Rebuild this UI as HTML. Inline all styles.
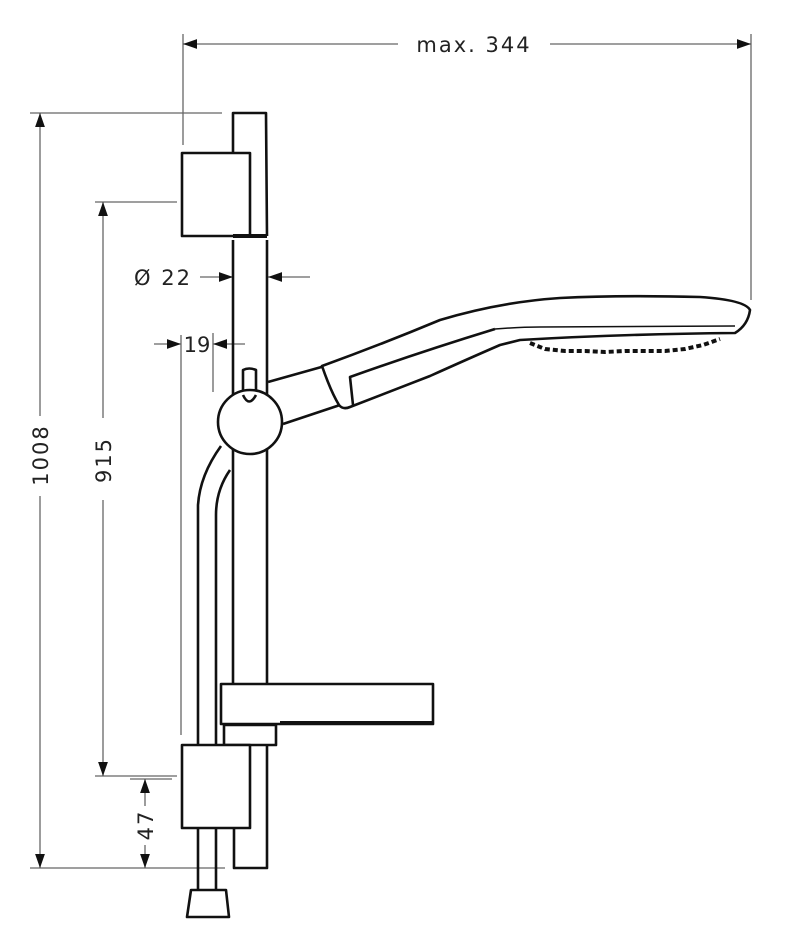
<!DOCTYPE html>
<html><head><style>body{margin:0;background:#fff}svg{display:block}</style></head><body>
<svg width="786" height="950" viewBox="0 0 786 950" xmlns="http://www.w3.org/2000/svg" font-family="'DejaVu Sans','Liberation Sans',sans-serif">
<defs>
<marker id="a" viewBox="0 0 10 10" refX="10" refY="5" markerWidth="14" markerHeight="14" markerUnits="userSpaceOnUse" orient="auto-start-reverse"><path d="M0,1.5 L10,5 L0,8.5Z" fill="#111"/></marker>
</defs>
<g stroke="#666" stroke-width="1.3" fill="none">
<line x1="183" y1="34" x2="183" y2="145"/>
<line x1="751" y1="34" x2="751" y2="300"/>
<line x1="183" y1="44" x2="398" y2="44" marker-start="url(#a)"/>
<line x1="550" y1="44" x2="751" y2="44" marker-end="url(#a)"/>
<line x1="30" y1="113" x2="222" y2="113"/>
<line x1="30" y1="868" x2="225" y2="868"/>
<line x1="40" y1="113" x2="40" y2="416" marker-start="url(#a)"/>
<line x1="40" y1="496" x2="40" y2="868" marker-end="url(#a)"/>
<line x1="95" y1="202" x2="177" y2="202"/>
<line x1="95" y1="776" x2="177" y2="776"/>
<line x1="103" y1="202" x2="103" y2="418" marker-start="url(#a)"/>
<line x1="103" y1="500" x2="103" y2="776" marker-end="url(#a)"/>
<line x1="130" y1="779" x2="172" y2="779"/>
<line x1="145" y1="779" x2="145" y2="806" marker-start="url(#a)"/>
<line x1="145" y1="845" x2="145" y2="868" marker-end="url(#a)"/>
<line x1="200" y1="277" x2="233" y2="277" marker-end="url(#a)"/>
<line x1="310" y1="277" x2="268" y2="277" marker-end="url(#a)"/>
<line x1="154" y1="344" x2="181" y2="344" marker-end="url(#a)"/>
<line x1="245" y1="344" x2="213" y2="344" marker-end="url(#a)"/>
<line x1="181" y1="335" x2="181" y2="735"/>
<line x1="213" y1="333" x2="213" y2="392"/>
</g>
<g fill="#222" font-size="21" letter-spacing="2">
<text x="474" y="52" text-anchor="middle">max. 344</text>
<text x="163" y="285" text-anchor="middle">Ø 22</text>
<text x="197" y="352" text-anchor="middle" letter-spacing="0">19</text>
<text transform="translate(48,455) rotate(-90)" text-anchor="middle">1008</text>
<text transform="translate(111,460) rotate(-90)" text-anchor="middle">915</text>
<text transform="translate(153,825) rotate(-90)" text-anchor="middle">47</text>
</g>
<g stroke="#111" stroke-width="2.6" fill="#fff" stroke-linejoin="round">
<path d="M233,236 L233,113 L266,113 L267,236"/>
<rect x="182" y="153" width="68" height="83"/>
<line x1="233" y1="236" x2="267" y2="236" stroke-width="4"/>
<line x1="233" y1="240" x2="233" y2="684"/>
<line x1="267" y1="240" x2="267" y2="684"/>
<path d="M268,382 L325,366 L340,405 L283,424" />
<path d="M322,366 Q331,392 339,405 Q343,410 350,407 L430,376 Q470,358 500,345 L520,340 Q620,334 735,333 Q748,325 750,310 Q745,300 700,297 Q620,295 560,298 Q500,302 440,320 Q380,345 322,366Z"/>
<path d="M353,405 L350,377 Q420,352 495,329" fill="none"/>
<path d="M495,329 Q520,327 540,327 L735,326" fill="none" stroke-width="1.5"/>
<path d="M530,343 L545,349 L565,351 L585,351 L605,352 L625,351 L645,351 L665,351 L685,349 L703,345 L720,339" fill="none" stroke-width="4" stroke-dasharray="5 3"/>
<path d="M221,446 Q200,475 198,505 L198,745" fill="none"/>
<path d="M230,470 Q216,490 216,515 L216,745" fill="none"/>
<line x1="198" y1="828" x2="198" y2="890"/>
<line x1="216" y1="828" x2="216" y2="890"/>
<path d="M191,890 L226,890 L229,917 L187,917Z"/>
<path d="M243,400 L243,370 Q249,367 256,370 L256,400Z"/>
<circle cx="250" cy="422" r="32"/>
<path d="M243,395 Q249,408 256,395" fill="none"/>
<rect x="221" y="684" width="212" height="40"/>
<line x1="280" y1="723" x2="433" y2="723" stroke-width="4"/>
<rect x="224" y="725" width="52" height="20"/>
<path d="M234,828 L234,868 L267,868 L267,745"/>
<rect x="182" y="745" width="68" height="83"/>
</g>
</svg>
</body></html>
